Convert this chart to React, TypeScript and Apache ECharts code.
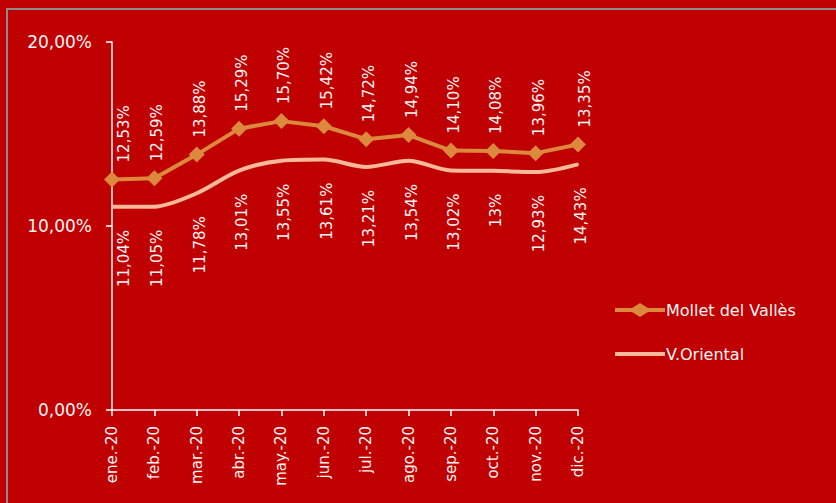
import React, { useEffect, useRef } from "react";
import * as echarts from "echarts";

const categories = ["ene.-20", "feb.-20", "mar.-20", "abr.-20", "may.-20", "jun.-20", "jul.-20", "ago.-20", "sep.-20", "oct.-20", "nov.-20", "dic.-20"];
const molletValues = [12.53, 12.59, 13.88, 15.29, 15.70, 15.42, 14.72, 14.94, 14.10, 14.08, 13.96, 14.43];
const orientalValues = [11.04, 11.05, 11.78, 13.01, 13.55, 13.61, 13.21, 13.54, 13.02, 13.00, 12.93, 13.35];
const molletLabels = ["12,53%", "12,59%", "13,88%", "15,29%", "15,70%", "15,42%", "14,72%", "14,94%", "14,10%", "14,08%", "13,96%", "13,35%"];
const orientalLabels = ["11,04%", "11,05%", "11,78%", "13,01%", "13,55%", "13,61%", "13,21%", "13,54%", "13,02%", "13%", "12,93%", "14,43%"];
const yTicks = [0, 10, 20];

const FONT = "DejaVu Sans";
const TXT = "#fff4f4";
const ORIENTAL = "#f8b89a";
const MOLLET = "#dc883d";

export default function App() {
  const ref = useRef<HTMLDivElement>(null);
  useEffect(() => {
    const chart = echarts.init(ref.current!, null, { renderer: "svg" });
    const labelBase = {
      show: true,
      rotate: 90,
      color: TXT,
      fontFamily: FONT,
      fontSize: 15,
      verticalAlign: "middle",
    };
    chart.setOption({
      animation: false,
      backgroundColor: "#c00000",
      textStyle: { fontFamily: FONT },
      graphic: [
        {
          type: "rect",
          shape: { x: 7, y: 9, width: 840, height: 510 },
          style: { fill: "none", stroke: "#8c8c8c", lineWidth: 2 },
          silent: true,
        },
      ],
      grid: { left: 112, right: 258, top: 42, bottom: 93 },
      legend: {
        orient: "vertical",
        left: 610,
        top: 297,
        itemWidth: 50,
        itemHeight: 14,
        itemGap: 28,
        textStyle: { color: TXT, fontFamily: FONT, fontSize: 16, padding: [0, 0, 0, -4] },
        data: [
          { name: "Mollet del Vallès", icon: "path://M0,5 L17,5 L25,0 L33,5 L50,5 L50,9 L33,9 L25,14 L17,9 L0,9 Z" },
          { name: "V.Oriental", icon: "path://M0,5 L50,5 L50,9 L0,9 Z" },
        ],
      },
      xAxis: {
        type: "category",
        data: categories,
        boundaryGap: false,
        axisLine: { lineStyle: { color: "#ffffff", width: 1.5 } },
        axisTick: { show: true, alignWithLabel: true, length: 6, lineStyle: { color: "#ffffff", width: 1.5 } },
        axisLabel: { rotate: 90, color: TXT, fontFamily: FONT, fontSize: 15, margin: 16, interval: 0 },
      },
      yAxis: {
        type: "value",
        min: 0,
        max: 20,
        interval: 10,
        axisLine: { show: true, lineStyle: { color: "#ffffff", width: 1.5 } },
        axisTick: { show: true, length: 6, lineStyle: { color: "#ffffff", width: 1.5 } },
        splitLine: { show: false },
        axisLabel: {
          color: TXT,
          fontFamily: FONT,
          fontSize: 17,
          margin: 20,
          formatter: (v: number) => (yTicks.includes(v) ? v.toFixed(2).replace(".", ",") + "%" : ""),
        },
      },
      series: [
        {
          name: "V.Oriental",
          type: "line",
          smooth: 0.3,
          symbol: "circle",
          symbolSize: 2,
          showSymbol: true,
          lineStyle: { color: ORIENTAL, width: 4 },
          itemStyle: { color: ORIENTAL },
          z: 2,
          data: orientalValues.map((v, i) => ({
            value: v,
            label: {
              ...labelBase,
              position: "bottom",
              distance: 22,
              align: "right",
              offset: [0, i === 0 ? 12 : 3],
              formatter: () => orientalLabels[i],
            },
          })),
        },
        {
          name: "Mollet del Vallès",
          type: "line",
          symbol: "diamond",
          symbolSize: 16,
          lineStyle: { color: MOLLET, width: 4 },
          itemStyle: { color: MOLLET },
          z: 3,
          data: molletValues.map((v, i) => ({
            value: v,
            label: {
              ...labelBase,
              position: "top",
              distance: 9,
              align: "left",
              offset: [0, i === 0 ? 12 : i === 11 ? 7 : 3],
              formatter: () => molletLabels[i],
            },
          })),
        },
      ],
    });
    return () => chart.dispose();
  }, []);
  return <div ref={ref} style={{ position: "fixed", left: 0, top: 0, width: 836, height: 503 }} />;
}
